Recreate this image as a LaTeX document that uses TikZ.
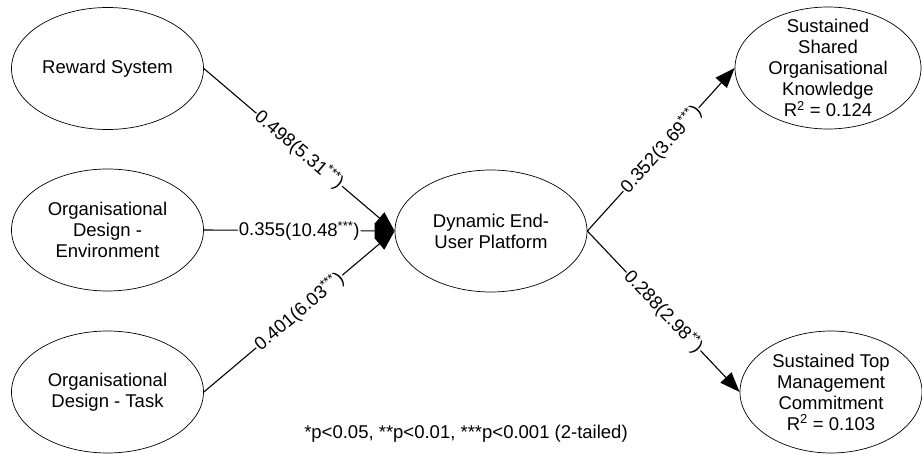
\documentclass[tikz,border=0pt]{standalone}
\usepackage{fontspec}
\setmainfont{Liberation Sans}
\usetikzlibrary{shapes.geometric,arrows.meta}
\begin{document}
\begin{tikzpicture}[x=1pt,y=-1pt,
  latent/.style={ellipse,draw,line width=0.7pt,inner sep=0pt,minimum width=192pt,minimum height=122pt},
  txt/.style={align=center,inner sep=0pt,font=\fontsize{18.5}{21}\selectfont},
  conn/.style={line width=1.1pt,-{Triangle[length=20pt,width=15pt]}},
  coef/.style={sloped,fill=white,inner sep=1pt,font=\fontsize{18.5}{21}\selectfont}]
\useasboundingbox (0,0) rectangle (922,453);
\node[latent,label={[txt]center:{Reward System}}] (rs) at (107.5,68.5) {};
\node[latent,label={[txt]center:{Organisational\\Design -\\Environment}}] (ode) at (107.5,230) {};
\node[latent,label={[txt]center:{Organisational\\Design - Task}}] (odt) at (107.5,392) {};
\node[latent,label={[txt]center:{Dynamic End-\\User Platform}}] (deu) at (491,231) {};
\node[latent,minimum width=186pt,label={[txt]center:{Sustained\\Shared\\Organisational\\Knowledge\\R\textsuperscript{2} = 0.124}}] (ssok) at (828,68) {};
\node[latent,minimum width=182pt,label={[txt]center:{Sustained Top\\Management\\Commitment\\R\textsuperscript{2} = 0.103}}] (stmc) at (831,392) {};
\node[txt] (note) at (466,434) {*p<0.05, **p<0.01, ***p<0.001 (2-tailed)};
\draw[conn] (rs.east) -- node[coef]{0.498(5.31\textsuperscript{***})} (deu.west);
\draw[conn] (ode.east) -- node[coef]{0.355(10.48\textsuperscript{***})} (deu.west);
\draw[conn] (odt.east) -- node[coef]{0.401(6.03\textsuperscript{***})} (deu.west);
\draw[conn] (deu.east) -- node[coef]{0.352(3.69\textsuperscript{***})} (ssok.west);
\draw[conn] (deu.east) -- node[coef]{0.288(2.98\textsuperscript{**})} (stmc.west);
\end{tikzpicture}
\end{document}
